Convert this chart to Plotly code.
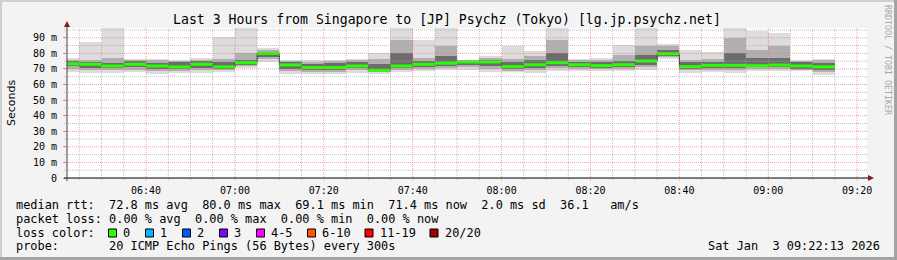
import plotly.graph_objects as go
import pandas as pd

# ---- data ----
DAY = "2026-01-03"
step_end = ["06:25", "06:30", "06:35", "06:40", "06:45", "06:50", "06:55", "07:00", "07:05", "07:10",
            "07:15", "07:20", "07:25", "07:30", "07:35", "07:40", "07:45", "07:50", "07:55", "08:00",
            "08:05", "08:10", "08:15", "08:20", "08:25", "08:30", "08:35", "08:40", "08:45", "08:50",
            "08:55", "09:00", "09:05", "09:10", "09:15"]
median = [73.3, 73.0, 71.9, 73.0, 71.9, 71.3, 73.0, 71.3, 74.0, 80.0, 72.6, 70.9, 70.9, 71.9, 69.1,
          71.9, 73.0, 73.7, 74.5, 74.5, 71.5, 72.7, 74.0, 72.7, 72.1, 72.7, 75.1, 79.8, 71.5, 72.3,
          72.3, 72.1, 72.5, 71.9, 71.4]
ping_max = [77.0, 87.5, 104, 76.4, 76.4, 75.6, 76.8, 90.5, 106, 83.2, 76.0, 75.6, 76.0, 76.4, 80.3,
            103, 88.8, 105, 75.8, 78.5, 84.5, 81.8, 108, 76.4, 77.1, 85.6, 104, 86.0, 82.4, 80.7,
            102, 94.1, 93.1, 76.0, 76.6]
p90 = [76.0, 76.0, 77.0, 75.6, 75.6, 74.9, 76.0, 76.4, 80.3, 82.0, 75.3, 74.7, 75.1, 75.6, 76.4,
       88.8, 77.1, 84.5, 75.6, 76.8, 76.4, 78.1, 88.8, 75.6, 76.0, 79.2, 84.5, 84.5, 76.0, 76.4,
       89.9, 82.4, 85.0, 75.3, 75.6]
p75 = [74.9, 74.3, 73.8, 74.9, 73.8, 74.3, 74.9, 74.3, 76.0, 81.1, 74.3, 73.4, 73.8, 74.3, 73.4,
       80.3, 74.9, 78.1, 74.9, 75.6, 74.3, 75.6, 80.3, 74.5, 74.5, 74.9, 79.2, 82.4, 74.3, 74.3,
       80.3, 77.1, 77.1, 74.3, 73.8]
p25 = [71.7, 70.6, 70.6, 71.3, 70.0, 70.0, 70.6, 70.0, 72.8, 77.7, 70.0, 69.6, 69.1, 70.6, 68.5,
       70.6, 71.3, 71.7, 72.8, 71.7, 70.0, 70.4, 71.7, 71.3, 70.9, 71.1, 72.8, 78.5, 70.2, 70.6,
       70.6, 71.1, 71.1, 70.2, 69.6]
p10 = [70.0, 69.1, 69.1, 69.6, 68.5, 68.9, 69.1, 69.1, 71.7, 76.4, 68.9, 68.3, 68.1, 69.1, 67.9,
       69.6, 70.2, 70.6, 71.1, 70.2, 68.9, 69.1, 70.4, 70.0, 70.0, 70.0, 71.3, 77.5, 69.1, 69.6,
       69.1, 70.0, 70.0, 69.6, 68.3]
ping_min = [68.3, 67.6, 67.6, 68.1, 66.5, 67.3, 67.2, 67.9, 70.5, 74.6, 66.5, 66.8, 66.8, 67.6, 66.8,
            67.8, 69.0, 69.1, 69.2, 68.3, 67.9, 67.4, 69.0, 68.6, 69.0, 69.0, 69.5, 76.3, 67.6, 67.8,
            67.3, 68.8, 68.4, 68.4, 66.4]

y_ticks = [0, 10, 20, 30, 40, 50, 60, 70, 80, 90]
y_tick_text = ["0", "10 m", "20 m", "30 m", "40 m", "50 m", "60 m", "70 m", "80 m", "90 m"]

loss_labels = ["0", "1", "2", "3", "4-5", "6-10", "11-19", "20/20"]
loss_colors = ["#26ff00", "#00b8ff", "#0059ff", "#7e00ff", "#ff00ff", "#ff5500", "#ff0000", "#a10000"]

title = "Last 3 Hours from Singapore to [JP] Psychz (Tokyo) [lg.jp.psychz.net]"
legend_lines = [
    "median rtt:  72.8 ms avg  80.0 ms max  69.1 ms min  71.4 ms now  2.0 ms sd  36.1   am/s",
    "packet loss: 0.00 % avg  0.00 % max  0.00 % min  0.00 % now",
    "loss color:",
    "probe:       20 ICMP Echo Pings (56 Bytes) every 300s",
]
stamp = "Sat Jan  3 09:22:13 2026"

# ---- geometry ----
W, H = 897, 260
L, R, T, B = 67, 30, 28, 82
PW, PH = W - L - R, H - T - B
Y_MAX = 96.3
FONT = "DejaVu Sans Mono"
TXT = 11.9


def px(x):
    return (x - L) / PW


def py(y):
    return (H - B - y) / PH


STEP = pd.Timedelta(minutes=5)
ends = pd.to_datetime([f"{DAY} {t}" for t in step_end])
starts = ends - STEP
centers = ends - STEP / 2
width_ms = STEP.total_seconds() * 1000
t_start = pd.Timestamp(f"{DAY} 06:22:13")
t_end = pd.Timestamp(f"{DAY} 09:22:13")

fig = go.Figure()


def band(lo, hi, color):
    fig.add_trace(go.Bar(
        x=centers, base=lo, y=[h - l for l, h in zip(lo, hi)], width=width_ms,
        marker=dict(color=color, line=dict(width=0)), hoverinfo="skip", showlegend=False))


band(ping_min, ping_max, "#dcdcdc")
band(p10, p90, "#b0b0b0")
band(p25, p75, "#6c6c6c")

# thin median step connectors
fig.add_trace(go.Scatter(
    x=list(starts) + [ends[-1]], y=median + [median[-1]], mode="lines",
    line=dict(color="#202020", width=1, shape="hv"), hoverinfo="skip", showlegend=False))

# thick green median segments (one per step)
gx, gy = [], []
for s, e, m in zip(starts, ends, median):
    gx += [s, e, None]
    gy += [m, m, None]
fig.add_trace(go.Scatter(
    x=gx, y=gy, mode="lines", line=dict(color=loss_colors[0], width=3),
    hoverinfo="skip", showlegend=False, connectgaps=False))

shapes = []
# grid drawn above data, like rrdtool
minor_col = "rgba(170,170,170,0.75)"
major_col = "rgba(235,120,120,0.7)"
for v in range(5, 96, 5):
    shapes.append(dict(type="line", xref="paper", yref="y", x0=px(L - 3), x1=px(L + PW + 1), y0=v, y1=v,
                       line=dict(color=major_col if v % 10 == 0 else minor_col, width=1, dash="1px,1px"),
                       layer="above"))
t = pd.Timestamp(f"{DAY} 06:25")
while t <= t_end:
    major = (t.minute % 20 == 0)
    shapes.append(dict(type="line", xref="x", yref="paper", x0=t, x1=t, y0=py(T + PH + 3 if major else T + PH + 2), y1=1,
                       line=dict(color=major_col if major else minor_col, width=1, dash="1px,1px"),
                       layer="above"))
    t += STEP

# axes with arrows
shapes.append(dict(type="line", xref="paper", yref="paper", x0=px(L - 3), x1=px(L + PW + 5), y0=0, y1=0,
                   line=dict(color="black", width=1), layer="above"))
shapes.append(dict(type="line", xref="paper", yref="paper", x0=0, x1=0, y0=py(H - B + 3), y1=py(T - 5),
                   line=dict(color="#404040", width=1), layer="above"))
shapes.append(dict(type="path", xref="paper", yref="paper",
                   path=f"M {px(L - 3)},{py(T - 1)} L {px(L + 3)},{py(T - 1)} L {px(L)},{py(T - 7)} Z",
                   fillcolor="#8b1a1a", line=dict(width=0), layer="above"))
shapes.append(dict(type="path", xref="paper", yref="paper",
                   path=f"M {px(L + PW + 1)},{py(H - B - 3)} L {px(L + PW + 1)},{py(H - B + 3)} L {px(L + PW + 7)},{py(H - B)} Z",
                   fillcolor="#8b1a1a", line=dict(width=0), layer="above"))

# canvas frame
shapes += [
    dict(type="rect", xref="paper", yref="paper", x0=px(0), x1=px(W), y0=py(0), y1=py(2),
         fillcolor="#cfcfcf", line=dict(width=0)),
    dict(type="rect", xref="paper", yref="paper", x0=px(0), x1=px(2), y0=py(0), y1=py(H),
         fillcolor="#cfcfcf", line=dict(width=0)),
    dict(type="rect", xref="paper", yref="paper", x0=px(0), x1=px(W), y0=py(H - 3), y1=py(H),
         fillcolor="#a3a3a3", line=dict(width=0)),
    dict(type="rect", xref="paper", yref="paper", x0=px(W - 3), x1=px(W), y0=py(0), y1=py(H),
         fillcolor="#a3a3a3", line=dict(width=0)),
]

annotations = []
annotations.append(dict(text=title.replace(" ", "\u00a0"), xref="paper", yref="paper", x=px(447), y=py(19.5),
                        xanchor="center", yanchor="middle", showarrow=False,
                        font=dict(family=FONT, size=13.2, color="black")))
annotations.append(dict(text="Seconds", xref="paper", yref="paper", x=px(11), y=py(103),
                        xanchor="center", yanchor="middle", textangle=-90, showarrow=False,
                        font=dict(family="DejaVu Sans", size=11, color="black")))
annotations.append(dict(text="RRDTOOL\u00a0/\u00a0TOBI\u00a0OETIKER", xref="paper", yref="paper", x=px(888), y=py(60),
                        xanchor="center", yanchor="middle", textangle=90, showarrow=False,
                        font=dict(family=FONT, size=8.3, color="#a8a8a8")))
line_y = [205, 218.5, 232.5, 246.5]
for txt, yy in zip(legend_lines, line_y):
    annotations.append(dict(text=txt.replace(" ", "\u00a0"), xref="paper", yref="paper", x=px(14), y=py(yy),
                            xanchor="left", yanchor="middle", showarrow=False,
                            font=dict(family=FONT, size=TXT, color="black")))
annotations.append(dict(text=stamp.replace(" ", "\u00a0"), xref="paper", yref="paper", x=px(882), y=py(246.5),
                        xanchor="right", yanchor="middle", showarrow=False,
                        font=dict(family=FONT, size=TXT, color="black")))

box_x = [108.5, 145.5, 182.5, 219.5, 256.5, 307.5, 365, 430]
for bx, lab, col in zip(box_x, loss_labels, loss_colors):
    shapes.append(dict(type="rect", xref="paper", yref="paper", x0=px(bx), x1=px(bx + 8), y0=py(237), y1=py(229),
                       fillcolor=col, line=dict(color="black", width=1)))
    annotations.append(dict(text=lab, xref="paper", yref="paper", x=px(bx + 12.5), y=py(232.5),
                            xanchor="left", yanchor="middle", showarrow=False,
                            font=dict(family=FONT, size=TXT, color="black")))

fig.update_layout(
    width=W, height=H, margin=dict(l=L, r=R, t=T, b=B, pad=0), autosize=False,
    paper_bgcolor="#f3f3f3", plot_bgcolor="white", barmode="overlay", bargap=0,
    shapes=shapes, annotations=annotations, showlegend=False,
    font=dict(family=FONT, color="black"),
    xaxis=dict(type="date", range=[t_start, t_end], tickformat="%H:%M",
               tick0=f"{DAY} 06:00", dtick=20 * 60 * 1000, showgrid=False, zeroline=False,
               ticks="", showline=False, tickfont=dict(family=FONT, size=10, color="black"),
               ticklabelstandoff=5, fixedrange=True),
    yaxis=dict(range=[0, Y_MAX], tickvals=y_ticks, ticktext=y_tick_text, showgrid=False, zeroline=False,
               ticks="outside", ticklen=3, tickcolor="rgba(235,120,120,0.9)", showline=False,
               tickfont=dict(family=FONT, size=10, color="black"), ticklabelstandoff=4, fixedrange=True),
)

fig.write_html("out.html")
